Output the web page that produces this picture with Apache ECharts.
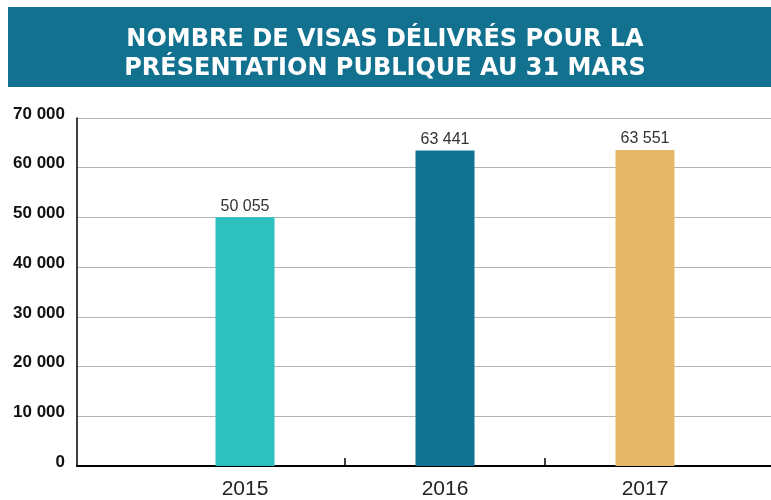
<!DOCTYPE html>
<html>
<head>
<meta charset="utf-8">
<script src="https://cdn.jsdelivr.net/npm/echarts@6/dist/echarts.min.js"></script>
<style>
  html, body { margin: 0; padding: 0; background: #fff; }
  #main { width: 771px; height: 500px; }
</style>
</head>
<body>
<div id="main"></div>
<script>
const years = ['2015', '2016', '2017']
const visas = [50055, 63441, 63551]
const barColors = ['#2ebfbf', '#117391', '#e4b867']
const yTicks = [0, 10000, 20000, 30000, 40000, 50000, 60000, 70000]

const fmt = (v) => String(v).replace(/\B(?=(\d{3})+(?!\d))/g, ' ')

const chart = echarts.init(document.getElementById('main'))

const option = {
  animation: false,
  graphic: [
    {
      type: 'rect',
      shape: { x: 8, y: 7, width: 763, height: 80 },
      style: { fill: '#12718f' },
      z: -1
    }
  ],
  title: {
    text: 'NOMBRE DE VISAS DÉLIVRÉS POUR LA\nPRÉSENTATION PUBLIQUE AU 31 MARS',
    left: 380,
    textAlign: 'center',
    top: 20,
    textStyle: {
      color: '#fff',
      fontFamily: 'DejaVu Sans',
      fontWeight: 'bold',
      fontSize: 24,
      lineHeight: 29
    }
  },
  grid: [
    { left: 77, right: 0, top: 118, bottom: 34 },
    // bar grid: 4 bands of 200px, the last one falls off the canvas
    { left: 145, width: 800, top: 118, bottom: 34, outerBoundsMode: 'none' }
  ],
  xAxis: [
    {
      gridIndex: 0,
      type: 'category',
      data: years,
      axisLine: { lineStyle: { color: '#000', width: 2 } },
      axisTick: { show: false },
      axisLabel: { show: false }
    },
    {
      gridIndex: 1,
      type: 'category',
      data: years.concat(['']),
      axisLine: { show: false },
      axisTick: {
        show: true,
        inside: true,
        length: 8,
        interval: (idx) => idx === 1 || idx === 2,
        lineStyle: { color: '#000', width: 1.5 }
      },
      axisLabel: {
        margin: 13,
        fontSize: 21,
        color: '#222',
        fontFamily: 'Liberation Sans'
      }
    }
  ],
  yAxis: [
    {
      gridIndex: 0,
      type: 'value',
      min: 0,
      max: 70000,
      interval: 10000,
      axisLine: { show: true, lineStyle: { color: '#000', width: 1.5 } },
      axisTick: { show: false },
      splitLine: { lineStyle: { color: '#b3b3b3', width: 1 } },
      axisLabel: {
        margin: 12,
        fontSize: 17,
        fontWeight: 'bold',
        color: '#111',
        fontFamily: 'Liberation Sans',
        verticalAlign: 'bottom',
        lineHeight: 8,
        customValues: yTicks,
        formatter: (v) => fmt(v)
      }
    },
    {
      gridIndex: 1,
      type: 'value',
      min: 0,
      max: 70000,
      interval: 10000,
      show: false
    }
  ],
  series: [
    {
      type: 'bar',
      xAxisIndex: 1,
      yAxisIndex: 1,
      barWidth: 59,
      data: visas.map((v, i) => ({ value: v, itemStyle: { color: barColors[i] } })),
      label: {
        show: true,
        position: 'top',
        distance: 3,
        fontSize: 16,
        color: '#333',
        fontFamily: 'Liberation Sans',
        formatter: (p) => fmt(p.value)
      }
    }
  ]
}

chart.setOption(option)
window.addEventListener('resize', () => chart.resize())
</script>
</body>
</html>
